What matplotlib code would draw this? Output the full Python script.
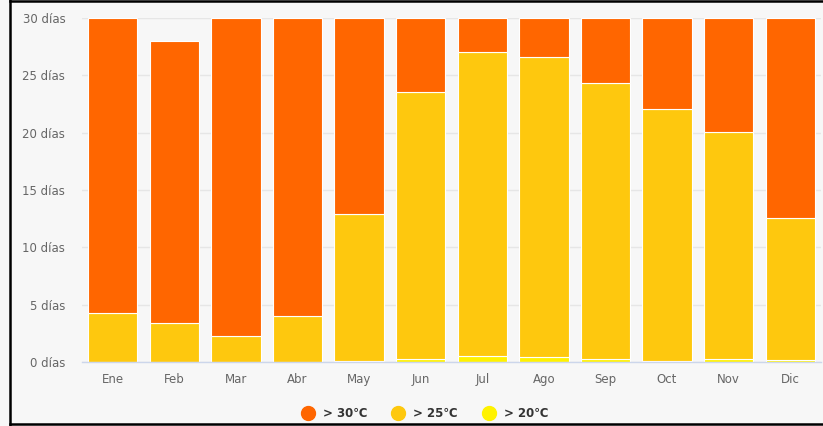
import matplotlib.pyplot as plt
from matplotlib.lines import Line2D
import numpy as np

meses = ['Ene', 'Feb', 'Mar', 'Abr', 'May', 'Jun', 'Jul', 'Ago', 'Sep', 'Oct', 'Nov', 'Dic']
# dias por encima de cada umbral (apilados)
mas_20 = [0.0, 0.0, 0.0, 0.0, 0.1, 0.25, 0.5, 0.45, 0.25, 0.1, 0.25, 0.15]
mas_25 = [4.3, 3.4, 2.3, 4.0, 12.8, 23.3, 26.5, 26.15, 24.05, 22.0, 19.8, 12.45]
mas_30 = [25.7, 24.6, 27.7, 26.0, 17.1, 6.45, 3.0, 3.4, 5.7, 7.9, 9.95, 17.4]

c30 = '#FF6600'
c25 = '#FEC80E'
c20 = '#FFF200'
fondo = '#F7F7F7'
gris = '#666666'

fig = plt.figure(figsize=(8.23, 4.26), dpi=100, facecolor=fondo)
ax = fig.add_axes([0.0996, 0.1502, 0.898, 0.8075])
ax.set_facecolor(fondo)

x = np.arange(len(meses))
b20 = np.array(mas_20)
b25 = b20 + np.array(mas_25)
ax.bar(x, mas_20, width=0.8, color=c20, edgecolor='white', linewidth=0.8, zorder=3)
ax.bar(x, mas_25, width=0.8, bottom=b20, color=c25, edgecolor='white', linewidth=0.8, zorder=3)
ax.bar(x, mas_30, width=0.8, bottom=b25, color=c30, edgecolor='white', linewidth=0.8, zorder=3)

ax.set_xlim(-0.5, len(meses) - 0.5)
ax.set_ylim(0, 30)
ax.set_yticks(range(0, 31, 5))
ax.set_yticklabels([f'{v} días' for v in range(0, 31, 5)])
ax.set_xticks(x)
ax.set_xticklabels(meses)
ax.tick_params(axis='y', length=0, pad=12, labelsize=8.5, labelcolor=gris)
ax.tick_params(axis='x', length=0, pad=8, labelsize=8.5, labelcolor=gris)
ax.grid(axis='y', color='#E6E6E6', linewidth=1, zorder=0)
for s in ['top', 'right', 'left']:
    ax.spines[s].set_visible(False)
ax.spines['bottom'].set_color('#CCD6EB')
ax.spines['bottom'].set_linewidth(1)
ax.spines['bottom'].set_zorder(4)

handles = [Line2D([], [], marker='o', linestyle='', markersize=10, color=c)
           for c in (c30, c25, c20)]
etiquetas = ['> 30℃', '> 25℃', '> 20℃']
leg = fig.legend(handles, etiquetas, loc='center', bbox_to_anchor=(0.513, 0.03), ncol=3,
                 frameon=False, handletextpad=0.3, columnspacing=1.6,
                 prop={'size': 8.5, 'weight': 'bold'})
for t in leg.get_texts():
    t.set_color('#333333')

# marco negro de la captura
fig.add_artist(Line2D([10 / 823, 10 / 823], [0, 1], transform=fig.transFigure, color='black', linewidth=1.8))
fig.add_artist(Line2D([10 / 823, 1], [1 - 1 / 426, 1 - 1 / 426], transform=fig.transFigure, color='black', linewidth=1.8))
fig.add_artist(Line2D([10 / 823, 1], [2 / 426, 2 / 426], transform=fig.transFigure, color='black', linewidth=1.8))

fig.savefig('out.png', dpi=100, facecolor=fondo)
